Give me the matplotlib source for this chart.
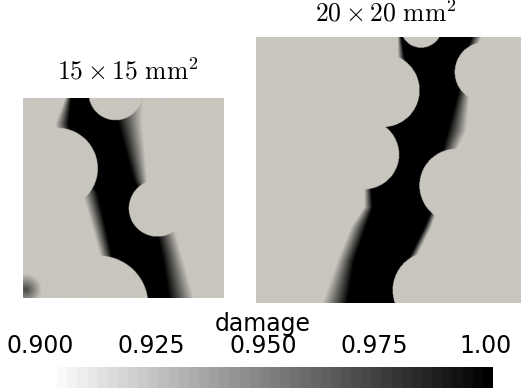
import numpy as np
import matplotlib.pyplot as plt
import matplotlib.transforms as mtransforms
from matplotlib.colors import LinearSegmentedColormap, Normalize
from matplotlib.cm import ScalarMappable

plt.rcParams['mathtext.fontset'] = 'cm'

# 15 x 15 mm specimen, coordinates in mm (y upward)
small_size = 15.0
small_rows = [15.0, 13.1, 11.1, 8.85, 7.98, 5.35, 3.1, 0.0]
small_left_outer = [3.15, 2.4, 2.65, 4.03, 4.4, 5.15, 5.78, 6.53]
small_left_core = [3.58, 3.4, 3.78, 4.78, 5.53, 6.15, 6.65, 7.53]
small_right_core = [6.53, 7.1, 7.65, 8.28, 8.78, 9.9, 10.4, 10.9]
small_right_outer = [9.0, 8.9, 9.1, 9.28, 9.28, 11.28, 11.9, 12.78]
small_hole_x = [2.53, 6.9, 10.03, 5.65]
small_hole_y = [9.73, 15.35, 6.73, -0.53]
small_hole_r = [3.05, 2.0, 2.13, 3.7]
small_spot_x = [0.2]
small_spot_y = [0.6]
small_spot_r = [1.2]
small_spot_peak = [0.965]

# 20 x 20 mm specimen
large_size = 20.0
large_rows = [20.0, 18.52, 15.75, 12.98, 10.21, 8.70, 7.19, 5.68, 3.17, 0.0]
large_left_outer = [10.62, 10.62, 11.37, 8.86, 9.61, 8.10, 8.10, 7.10, 6.09, 4.96]
large_left_core = [10.87, 11.12, 11.88, 9.36, 9.66, 8.61, 8.73, 8.23, 7.35, 6.84]
large_right_core = [16.15, 15.65, 15.15, 14.39, 13.64, 12.63, 13.26, 12.63, 11.37, 10.62]
large_right_outer = [16.91, 16.28, 16.03, 15.78, 14.44, 13.64, 13.64, 13.13, 11.88, 10.87]
large_hole_x = [12.38, 9.49, 17.16, 8.10, 15.02, 13.13]
large_hole_y = [20.78, 16.0, 17.38, 11.17, 8.83, 0.95]
large_hole_r = [1.56, 2.77, 2.26, 2.62, 2.77, 2.89]

tick_values = [0.9, 0.925, 0.95, 0.975, 1.0]
tick_labels = ['0.900', '0.925', '0.950', '0.975', '1.00']

bg = '#c8c6be'
field_cmap = LinearSegmentedColormap.from_list('lit_grey', [bg, '#000000'])
field_cmap.set_under(bg)
bar_cmap = LinearSegmentedColormap.from_list('greys', ['#ffffff', '#000000'], N=44)
norm = Normalize(vmin=0.9, vmax=1.0)


def damage_field(size, rows, lo, lc, rc, ro, hx, hy, hr,
                 sx=(), sy=(), sr=(), sp=(), n=500):
    x = np.linspace(0, size, n)
    X, Y = np.meshgrid(x, x)
    order = np.argsort(rows)
    r = np.asarray(rows)[order]

    def edge(e):
        return np.interp(Y, r, np.asarray(e)[order])

    a, b, c, d = edge(lo), edge(lc), edge(rc), edge(ro)
    left = np.clip((X - a) / np.maximum(b - a, 1e-6), 0, 1)
    right = np.clip((d - X) / np.maximum(d - c, 1e-6), 0, 1)
    D = 0.9 + 0.1 * np.minimum(left, right)
    D[D <= 0.9] = 0.85
    for cx, cy, rad, peak in zip(sx, sy, sr, sp):
        dist = np.hypot(X - cx, Y - cy)
        spot = peak - (peak - 0.9) * dist / rad
        D = np.where(dist < rad, np.maximum(D, spot), D)
    for cx, cy, rad in zip(hx, hy, hr):
        D[(X - cx) ** 2 + (Y - cy) ** 2 < rad ** 2] = 0.85
    return D


fig = plt.figure(figsize=(5.21, 3.90), dpi=100)
ax_s = fig.add_axes([0.0441, 0.2359, 0.3839, 0.5128])
ax_l = fig.add_axes([0.4914, 0.2231, 0.5106, 0.682])
cax = fig.add_axes([0.0902, 0.0051, 0.856, 0.0538])

D_s = damage_field(small_size, small_rows, small_left_outer, small_left_core,
                   small_right_core, small_right_outer,
                   small_hole_x, small_hole_y, small_hole_r,
                   small_spot_x, small_spot_y, small_spot_r, small_spot_peak)
D_l = damage_field(large_size, large_rows, large_left_outer, large_left_core,
                   large_right_core, large_right_outer,
                   large_hole_x, large_hole_y, large_hole_r)

for ax, D, size in [(ax_s, D_s, small_size), (ax_l, D_l, large_size)]:
    ax.imshow(D, origin='lower', extent=[0, size, 0, size], cmap=field_cmap,
              norm=norm, interpolation='bilinear', aspect='auto')
    ax.set_xlim(0, size)
    ax.set_ylim(0, size)
    ax.axis('off')

fig.text(0.2457, 0.797, r'$15\times15\ \mathrm{mm}^2$', ha='center',
         va='baseline', fontsize=18.5)
fig.text(0.7409, 0.944, r'$20\times20\ \mathrm{mm}^2$', ha='center',
         va='baseline', fontsize=18.5)

cb = fig.colorbar(ScalarMappable(norm=norm, cmap=bar_cmap), cax=cax,
                  orientation='horizontal', ticks=tick_values)
cb.set_ticklabels(tick_labels)
cb.outline.set_visible(False)
cax.xaxis.set_ticks_position('top')
cax.xaxis.set_label_position('top')
cax.tick_params(length=0, pad=6.5, labelsize=17)
cb.set_label('damage', fontsize=17, labelpad=2.5)

# nudge the scale labels slightly left of their ticks
shift = mtransforms.ScaledTranslation(-0.07, 0, fig.dpi_scale_trans)
for lbl in cax.get_xticklabels():
    lbl.set_transform(lbl.get_transform() + shift)
cax.xaxis.label.set_transform(cax.xaxis.label.get_transform() + shift)

fig.savefig('out.png', dpi=100)
